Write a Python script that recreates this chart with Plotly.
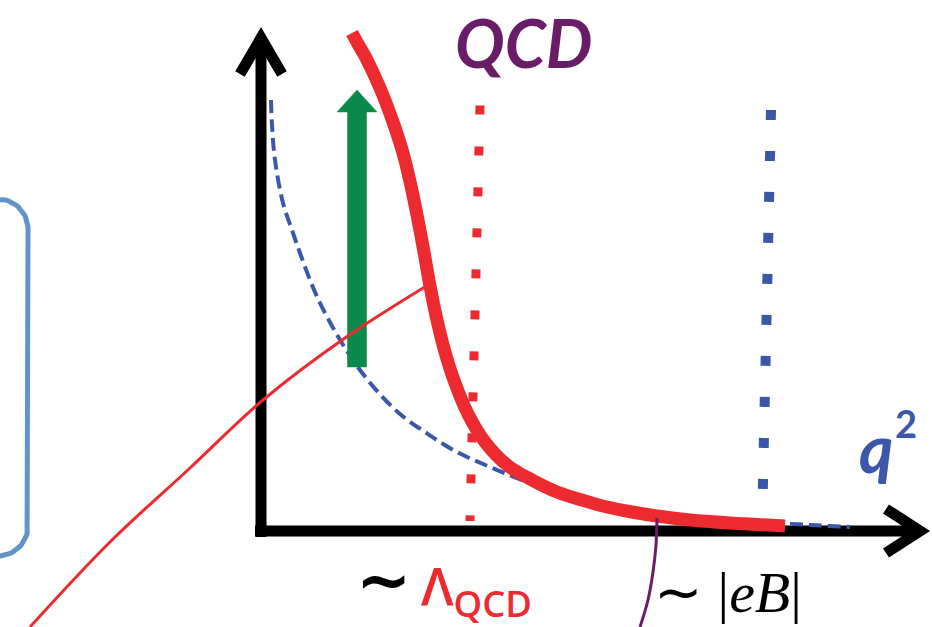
import numpy as np
import plotly.graph_objects as go

# Canvas space (pixels, y downward)
W, H = 932, 627

# Running coupling in QCD: thick red curve
red_x = [352, 358, 366, 380, 393, 403, 411, 418, 424, 430, 437, 445, 455, 468, 485, 507, 532, 557, 582, 607, 632, 657, 690, 730, 785]
red_y = [33, 44, 58, 88, 122, 153, 186, 220, 252, 286, 320, 352, 383, 414, 442, 465, 480, 492, 500, 507, 512, 516, 520, 523, 526]

# Coupling with magnetic field: blue dashed curve
blue_x = [271, 272, 275, 283, 292, 300, 310, 320, 332, 345, 360, 378, 400, 425, 455, 490, 530, 575, 620, 665, 710, 760, 810, 850]
blue_y = [100, 125, 160, 203, 230, 253, 280, 303, 326, 348, 370, 392, 414, 432, 451, 467, 483, 496, 506, 513, 518, 522, 525, 527]

# Scale markers (dotted verticals)
lqcd_x = [480, 470]
lqcd_y = [105.5, 521]
eb_x = [771, 762]
eb_y = [110, 528]

# Pointer lines
pointer_x = [428, 345, 263, 190, 110, 30]
pointer_y = [285, 338, 400, 468, 542, 627]
tick_x = [657, 656, 653, 648, 640]
tick_y = [518, 545, 572, 600, 627]

# Axes
yaxis_x = [261, 261]
yaxis_y = [537, 42]
yhead_x = [240, 261, 282]
yhead_y = [74, 38, 74]
xaxis_x = [255, 915]
xaxis_y = [531, 531]
xhead_x = [886, 920, 886]
xhead_y = [509, 531, 553]

# Enhancement arrow
arrow_x = 357
arrow_base, arrow_tip = 367, 90
shaft_w, head_w, head_len = 19, 40, 22

# Rounded box on the left
box_left, box_right, box_top, box_bottom, box_r = -60, 28, 199, 556, 30

RED = "#ec2a2f"
BLUE = "#3b57a8"
PURPLE = "#6a1d67"
GREEN = "#0b8a4b"
BOXBLUE = "#6394c7"

fig = go.Figure()

def line(x, y, color, width, dash=None, shape="linear"):
    fig.add_trace(go.Scatter(x=x, y=y, mode="lines", hoverinfo="skip",
                             line=dict(color=color, width=width, dash=dash, shape=shape)))

# rounded box outline
t1 = np.linspace(-np.pi / 2, 0, 20)
t2 = np.linspace(0, np.pi / 2, 20)
bx = ([box_left] + list(box_right - box_r + box_r * np.cos(t1)) +
      list(box_right - box_r + box_r * np.cos(t2)) + [box_left])
by = ([box_top] + list(box_top + box_r + box_r * np.sin(t1)) +
      list(box_bottom - box_r + box_r * np.sin(t2)) + [box_bottom])
line(bx, by, BOXBLUE, 5)

# dotted scale markers
line(lqcd_x, lqcd_y, RED, 9, dash="9px,32px")
line(eb_x, eb_y, BLUE, 10, dash="10px,31px")

# axes
line(yaxis_x, yaxis_y, "black", 11)
line(yhead_x, yhead_y, "black", 11)
line(xaxis_x, xaxis_y, "black", 11)
line(xhead_x, xhead_y, "black", 11)

# curves
line(blue_x, blue_y, BLUE, 4, dash="13px,6px", shape="spline")
line(red_x, red_y, RED, 13, shape="spline")

# enhancement arrow
ax = [arrow_x - shaft_w / 2, arrow_x - shaft_w / 2, arrow_x - head_w / 2, arrow_x,
      arrow_x + head_w / 2, arrow_x + shaft_w / 2, arrow_x + shaft_w / 2, arrow_x - shaft_w / 2]
ay = [arrow_base, arrow_tip + head_len, arrow_tip + head_len, arrow_tip,
      arrow_tip + head_len, arrow_tip + head_len, arrow_base, arrow_base]
fig.add_trace(go.Scatter(x=ax, y=ay, mode="lines", fill="toself", fillcolor=GREEN,
                         line=dict(color=GREEN, width=0.5), hoverinfo="skip"))

# pointer lines
line(pointer_x, pointer_y, RED, 3, shape="spline")
line(tick_x, tick_y, PURPLE, 3, shape="spline")

# labels
fig.add_annotation(x=523, y=1, text="QCD", showarrow=False, xanchor="center", yanchor="top",
                   font=dict(family="Lato", size=66, color=PURPLE, weight=700, style="italic"))
fig.add_annotation(x=876, y=447, text="q", showarrow=False, xanchor="center", yanchor="middle",
                   font=dict(family="Lato", size=66, color=BLUE, weight=700, style="italic"))
fig.add_annotation(x=906, y=423, text="2", showarrow=False, xanchor="center", yanchor="middle",
                   font=dict(family="Lato", size=38, color=BLUE, weight=700))
fig.add_annotation(x=383, y=580, text="~", showarrow=False, xanchor="center", yanchor="middle",
                   font=dict(family="DejaVu Sans", size=66, color="black", weight=700))
fig.add_annotation(x=419, y=589, text="Λ<sub>QCD</sub>", showarrow=False, xanchor="left", yanchor="middle",
                   font=dict(family="Open Sans", size=52, color=RED, weight=600))
fig.add_annotation(x=652, y=592, text="∼ |<i>eB</i>|", showarrow=False, xanchor="left", yanchor="middle",
                   font=dict(family="Liberation Serif", size=58, color="black"))

fig.update_layout(
    width=W, height=H, margin=dict(l=0, r=0, t=0, b=0),
    paper_bgcolor="white", plot_bgcolor="white", showlegend=False,
    xaxis=dict(range=[0, W], visible=False, fixedrange=True),
    yaxis=dict(range=[H, 0], visible=False, fixedrange=True),
)

fig.write_html("out.html")
